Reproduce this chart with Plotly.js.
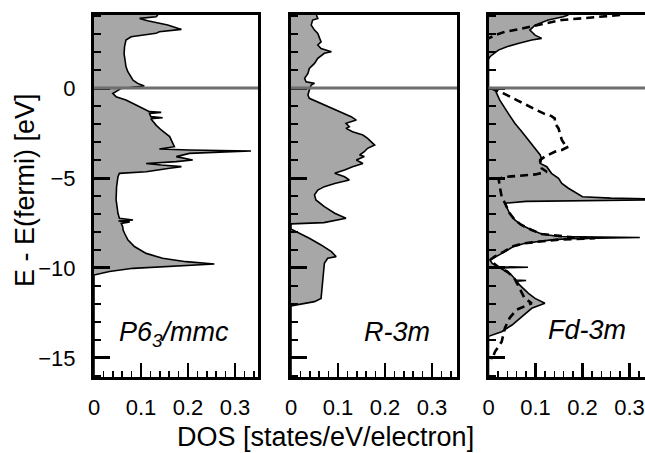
<!DOCTYPE html>
<html>
<head>
<meta charset="utf-8">
<script src="https://cdn.plot.ly/plotly-3.0.1.min.js"></script>
<style>html,body{margin:0;padding:0;background:#fff;}#chart{width:645px;height:453px;}</style>
</head>
<body>
<div id="chart"></div>
<script>
// Panel 1: P6_3/mmc
const energyP1 = [4.06,3.96,3.87,3.74,3.5,3.26,3.13,3.04,2.85,2.67,2.3,1.9,1.56,1.19,0.91,0.63,0.44,0.26,0.11,-0.02,-0.3,-0.48,-0.67,-1.04,-1.31,-1.35,-1.41,-1.59,-1.65,-1.7,-2.06,-2.33,-2.7,-3.26,-3.39,-3.44,-3.5,-3.56,-3.63,-3.81,-4.0,-4.09,-4.19,-4.28,-4.37,-4.46,-4.65,-4.74,-4.93,-5.5,-6.2,-6.96,-7.24,-7.33,-7.39,-7.44,-7.52,-7.7,-7.89,-8.07,-8.44,-8.81,-9.19,-9.46,-9.65,-9.78,-9.85,-9.93,-10.02,-10.2,-10.39,-16.1];
const dosP1 = [0.136,0.132,0.097,0.114,0.157,0.186,0.139,0.132,0.079,0.068,0.065,0.064,0.066,0.068,0.072,0.079,0.083,0.093,0.107,0.058,0.040,0.047,0.068,0.097,0.118,0.143,0.118,0.121,0.146,0.121,0.132,0.143,0.161,0.171,0.139,0.203,0.334,0.267,0.203,0.175,0.210,0.175,0.111,0.143,0.186,0.161,0.111,0.054,0.051,0.048,0.047,0.051,0.054,0.083,0.052,0.076,0.058,0.061,0.062,0.065,0.072,0.086,0.111,0.146,0.196,0.256,0.203,0.132,0.083,0.033,0.0,0.0];

// Panel 2: R-3m
const energyP2 = [4.06,3.87,3.78,3.5,3.22,3.04,2.76,2.57,2.39,2.2,2.02,1.93,1.65,1.37,1.09,0.81,0.54,0.35,0.26,0.17,-0.11,-0.39,-0.57,-0.85,-1.13,-1.41,-1.59,-1.78,-1.96,-2.15,-2.24,-2.43,-2.61,-2.8,-2.98,-3.17,-3.35,-3.54,-3.72,-3.81,-4.0,-4.19,-4.37,-4.56,-4.74,-4.93,-5.11,-5.3,-5.48,-5.67,-5.94,-6.22,-6.59,-6.96,-7.24,-7.33,-7.48,-7.55,-7.85,-7.89,-8.07,-8.35,-8.72,-9.09,-9.37,-9.46,-9.74,-10.67,-11.69,-11.87,-12.0,-12.11,-16.1];
const dosP2 = [0.054,0.057,0.046,0.043,0.050,0.057,0.061,0.064,0.057,0.064,0.086,0.071,0.057,0.050,0.039,0.036,0.029,0.032,0.050,0.043,0.039,0.036,0.039,0.064,0.086,0.110,0.128,0.139,0.117,0.124,0.117,0.131,0.153,0.163,0.171,0.178,0.163,0.156,0.146,0.156,0.139,0.153,0.131,0.114,0.093,0.114,0.124,0.093,0.071,0.057,0.050,0.053,0.071,0.093,0.117,0.100,0.070,0.0,0.0,0.004,0.018,0.039,0.064,0.086,0.096,0.078,0.071,0.068,0.064,0.050,0.021,0.0,0.0];

// Panel 3: Fd-3m (solid, filled)
const energyP3 = [4.06,3.96,3.78,3.5,3.22,2.94,2.76,2.67,2.48,2.3,2.11,1.93,1.74,1.6,0.0,-0.11,-0.67,-1.41,-1.96,-2.43,-2.89,-3.35,-3.72,-3.95,-4.19,-4.37,-4.74,-5.02,-5.3,-5.57,-5.85,-6.04,-6.12,-6.2,-6.3,-6.4,-6.59,-6.96,-7.33,-7.61,-7.89,-8.11,-8.25,-8.31,-8.38,-8.44,-8.63,-8.81,-9.09,-9.37,-9.56,-9.75,-9.93,-9.96,-10.0,-10.39,-10.67,-10.7,-10.73,-10.94,-11.41,-11.69,-11.96,-12.24,-12.69,-13.17,-13.54,-13.72,-13.8,-16.1];
const dosP3 = [0.170,0.159,0.127,0.099,0.088,0.099,0.113,0.092,0.063,0.039,0.021,0.011,0.003,0.0,0.0,0.014,0.024,0.042,0.056,0.071,0.085,0.099,0.110,0.113,0.110,0.124,0.134,0.149,0.156,0.170,0.188,0.200,0.260,0.420,0.080,0.036,0.038,0.045,0.056,0.070,0.092,0.113,0.150,0.322,0.170,0.134,0.078,0.053,0.035,0.014,0.003,0.008,0.020,0.084,0.025,0.049,0.058,0.080,0.060,0.066,0.085,0.099,0.120,0.092,0.071,0.050,0.028,0.011,0.0,0.0];

// Panel 3: Fd-3m (dashed comparison curve); null = gap
const energyP3b = [4.06,4.02,3.93,3.78,3.59,3.41,3.26,3.13,2.94,2.76,null,0.0,-0.3,-0.67,-1.04,-1.41,-1.56,-1.69,-1.96,-2.24,-2.52,-2.89,-3.17,-3.26,-3.44,-3.54,-3.81,-4.0,-4.15,-4.46,-4.65,-4.8,-4.95,-5.1,-5.48,-6.04,-6.4,-6.59,-6.96,-7.33,-7.61,-7.89,-8.11,-8.3,-8.35,-8.42,-8.63,-8.81,-9.09,-9.37,-9.56,-9.93,-10.2,-10.57,-11.13,-11.69,-11.96,-12.33,-12.78,-13.33,-14.1,-14.65,-15.1];
const dosP3b = [0.280,0.262,0.205,0.156,0.120,0.092,0.063,0.035,0.014,0.0,null,0.005,0.032,0.060,0.088,0.117,0.134,0.141,0.141,0.149,0.152,0.156,0.163,0.170,0.156,0.141,0.120,0.110,0.110,0.113,0.124,0.100,0.030,0.022,0.024,0.028,0.035,0.038,0.045,0.056,0.070,0.092,0.113,0.180,0.227,0.150,0.075,0.050,0.033,0.013,0.003,0.020,0.040,0.055,0.066,0.077,0.092,0.059,0.045,0.035,0.028,0.014,0.007];

const panelLabels = ['<i>P6<sub>3</sub>/mmc</i>', '<i>R-3m</i>', '<i>Fd-3m</i>'];
const xTitle = 'DOS [states/eV/electron]';
const yTitle = 'E - E(fermi) [eV]';

const FONT = 'Liberation Sans, Arial, Helvetica, sans-serif';
const fillCol = '#a7a7a7';

function areaTrace(x, y, xa, ya) {
  return {x: x, y: y, xaxis: xa, yaxis: ya, type: 'scatter', mode: 'lines',
    fill: 'tozerox', fillcolor: fillCol, line: {color: '#000', width: 1.6},
    hoverinfo: 'skip', showlegend: false};
}
const data = [
  areaTrace(dosP1, energyP1, 'x', 'y'),
  areaTrace(dosP2, energyP2, 'x2', 'y2'),
  areaTrace(dosP3, energyP3, 'x3', 'y3'),
  {x: dosP3b, y: energyP3b, xaxis: 'x3', yaxis: 'y3', type: 'scatter', mode: 'lines',
   line: {color: '#000', width: 2.6, dash: '8px,5px'}, connectgaps: false, showlegend: false, hoverinfo: 'skip'}
];

const PXU = 470; // px per DOS unit
const L = 94, W = 645, plotW = W - L;
const panels = [[94, 258], [291, 457], [488.5, 645]];

function xAxis(i) {
  const p = panels[i];
  return {
    domain: [(p[0]-L)/plotW, (p[1]-L)/plotW],
    range: [0, (p[1]-p[0])/PXU],
    anchor: i === 0 ? 'y' : 'y' + (i+1),
    showgrid: false, zeroline: false,
    showline: true, linecolor: '#000', linewidth: 3, mirror: true,
    ticks: 'inside', ticklen: 14, tickwidth: 2.5, tickcolor: '#000',
    tick0: 0, dtick: 0.1,
    minor: {dtick: 0.02, ticks: 'inside', ticklen: 6, tickwidth: 1.5, tickcolor: '#000', showgrid: false},
    tickfont: {family: FONT, size: 22, color: '#000'},
    ticklabelstandoff: 9
  };
}
function yAxis(i) {
  return {
    domain: [0, 1],
    range: [-16.06, 4.06],
    anchor: i === 0 ? 'x' : 'x' + (i+1),
    showgrid: false, zeroline: false,
    showline: true, linecolor: '#000', linewidth: 3, mirror: i < 2,
    ticks: 'inside', ticklen: 16, tickwidth: 3, tickcolor: '#000',
    tick0: 0, dtick: 5,
    minor: {dtick: 1, ticks: 'inside', ticklen: 7, tickwidth: 1.5, tickcolor: '#000', showgrid: false},
    showticklabels: i === 0,
    tickfont: {family: FONT, size: 22, color: '#000'},
    ticklabelstandoff: 11
  };
}

const shapes = [0,1,2].map(i => ({
  type: 'line', layer: 'above',
  xref: (i === 0 ? 'x' : 'x' + (i+1)) + ' domain', x0: 0, x1: 1,
  yref: i === 0 ? 'y' : 'y' + (i+1), y0: 0, y1: 0,
  line: {color: '#6f6f6f', width: 3}
}));

const labelPos = [[0.49, 0.12], [0.64, 0.125], [0.63, 0.13]];
const annotations = panelLabels.map((t, i) => ({
  text: t, showarrow: false,
  xref: (i === 0 ? 'x' : 'x' + (i+1)) + ' domain', yref: (i === 0 ? 'y' : 'y' + (i+1)) + ' domain',
  x: labelPos[i][0], y: labelPos[i][1], xanchor: 'center', yanchor: 'middle',
  font: {family: FONT, size: 27, color: '#000'}
}));
annotations.push({
  text: xTitle, showarrow: false, xref: 'paper', yref: 'paper',
  x: (325 - L)/plotW, y: -(437 - 377)/362, xanchor: 'center', yanchor: 'middle',
  font: {family: FONT, size: 27, color: '#000'}
});
annotations.push({
  text: yTitle, showarrow: false, xref: 'paper', yref: 'paper', textangle: -90,
  x: -(L - 25)/plotW, y: (377 - 190)/362, xanchor: 'center', yanchor: 'middle',
  font: {family: FONT, size: 27, color: '#000'}
});

const layout = {
  width: 645, height: 453,
  margin: {l: L, r: 0, t: 15, b: 76, pad: 0},
  paper_bgcolor: '#fff', plot_bgcolor: '#fff',
  font: {family: FONT, color: '#000'},
  showlegend: false,
  xaxis: xAxis(0), xaxis2: xAxis(1), xaxis3: xAxis(2),
  yaxis: yAxis(0), yaxis2: yAxis(1), yaxis3: yAxis(2),
  shapes: shapes,
  annotations: annotations
};

Plotly.newPlot('chart', data, layout, {staticPlot: true, displayModeBar: false});
</script>
</body>
</html>
